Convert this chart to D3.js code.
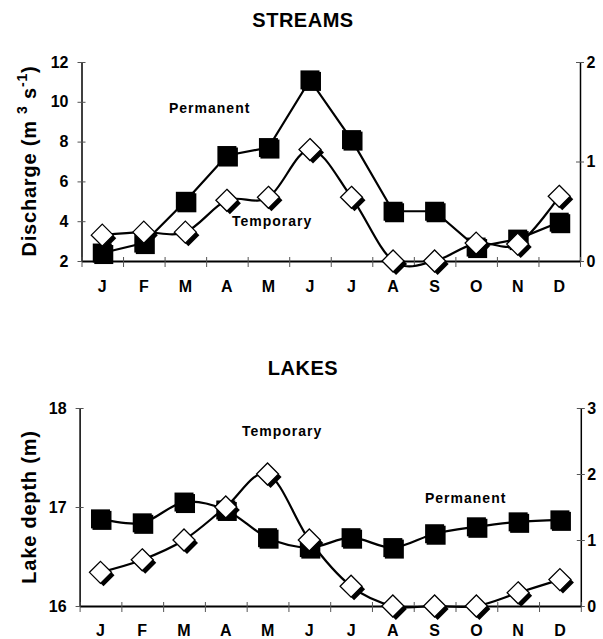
<!DOCTYPE html>
<html>
<head>
<meta charset="utf-8">
<script src="https://cdn.jsdelivr.net/npm/d3@7"></script>
<style>
  body { margin: 0; background: #fff; }
  svg { display: block; font-family: "Liberation Sans", Arial, sans-serif; font-weight: bold; }
  .tick text { font-size: 16px; font-weight: bold; fill: #000; }
</style>
</head>
<body>
<svg id="chart" width="603" height="639"></svg>
<script>
// month initials along the x axis
var months = ['J', 'F', 'M', 'A', 'M', 'J', 'J', 'A', 'S', 'O', 'N', 'D'];

// streams: permanent on left axis (m3 s-1), temporary on right axis
var streamPermanent = [2.4, 2.9, 5.0, 7.3, 7.7, 11.1, 8.1, 4.5, 4.5, 2.7, 3.1, 3.95];
var streamTemporary = [0.26, 0.29, 0.29, 0.61, 0.64, 1.12, 0.64, 0, 0, 0.18, 0.17, 0.65];
var streamLeftTicks = [2, 4, 6, 8, 10, 12];
var streamRightTicks = [0, 1, 2];

// lakes: permanent depth on left axis (m), temporary on right axis
var lakePermanent = [16.88, 16.84, 17.05, 16.97, 16.69, 16.59, 16.69, 16.59, 16.73, 16.80, 16.85, 16.87];
var lakeTemporary = [0.51, 0.70, 1.0, 1.5, 2.0, 1.0, 0.30, 0, 0, 0, 0.20, 0.40];
var lakeLeftTicks = [16, 17, 18];
var lakeRightTicks = [0, 1, 2, 3];

var svg = d3.select('#chart');

var panels = [
    {
        title: 'STREAMS', titleY: 27,
        left: 81.5, right: 580, top: 62, bottom: 261,
        yLeft: [2, 12], yRight: [0, 2],
        leftTicks: streamLeftTicks, rightTicks: streamRightTicks,
        permanent: streamPermanent, temporary: streamTemporary,
        permCurve: d3.curveLinear,
        labelY: 161, monthY: 292,
        permLabel: [169, 113], tempLabel: [232, 226]
    },
    {
        title: 'LAKES', titleY: 375,
        left: 79.6, right: 580.8, top: 408, bottom: 606,
        yLeft: [16, 18], yRight: [0, 3],
        leftTicks: lakeLeftTicks, rightTicks: lakeRightTicks,
        permanent: lakePermanent, temporary: lakeTemporary,
        permCurve: d3.curveCardinal.tension(0),
        labelY: 507, monthY: 636,
        permLabel: [425, 503], tempLabel: [242, 436]
    }
];

panels.forEach(function(p, k) {
    var g = svg.append('g');

    var x = d3.scaleLinear().domain([0, 12]).range([p.left, p.right]);
    var xBand = d3.scaleBand().domain(d3.range(12)).range([p.left, p.right]);
    var yL = d3.scaleLinear().domain(p.yLeft).range([p.bottom, p.top]);
    var yR = d3.scaleLinear().domain(p.yRight).range([p.bottom, p.top]);

    // title
    g.append('text')
        .attr('x', 303).attr('y', p.titleY)
        .attr('text-anchor', 'middle')
        .style('font-size', '20px')
        .style('letter-spacing', '0.5px')
        .text(p.title);

    // left axis
    var la = g.append('g')
        .attr('transform', 'translate(' + p.left + ',0)')
        .call(d3.axisLeft(yL).tickValues(p.leftTicks).tickFormat(d3.format('d'))
            .tickSizeOuter(0).tickPadding(7));
    la.selectAll('.tick line').attr('x1', 4).attr('x2', -4).attr('stroke', '#555');
    la.select('.domain').attr('stroke-width', 1.5);

    // right axis
    var ra = g.append('g')
        .attr('transform', 'translate(' + p.right + ',0)')
        .call(d3.axisRight(yR).tickValues(p.rightTicks).tickFormat(d3.format('d'))
            .tickSizeOuter(0).tickPadding(0.5));
    ra.selectAll('.tick line').attr('x1', -4).attr('x2', 4).attr('stroke', '#555');
    ra.select('.domain').attr('stroke-width', 1.5);

    // bottom axis: tick marks on month boundaries
    var ba = g.append('g')
        .attr('transform', 'translate(0,' + p.bottom + ')')
        .call(d3.axisBottom(x).tickValues(d3.range(13)).tickFormat('').tickSizeOuter(0));
    ba.selectAll('.tick line').attr('y1', -4).attr('y2', 6).attr('stroke', '#555');
    ba.select('.domain').attr('stroke-width', 2);

    // month labels at band centres
    var ma = g.append('g')
        .attr('transform', 'translate(0,' + p.bottom + ')')
        .call(d3.axisBottom(xBand).tickSize(0).tickFormat(function(i) { return months[i]; }));
    ma.select('.domain').remove();
    ma.selectAll('.tick text').attr('y', p.monthY - p.bottom).attr('dy', 0);

    // y axis title
    var yt = g.append('text')
        .attr('transform', 'translate(36,' + p.labelY + ') rotate(-90)')
        .attr('text-anchor', 'middle')
        .style('font-size', '20px')
        .style('letter-spacing', '0.8px');
    if (k === 0) {
        yt.append('tspan').text('Discharge (m ');
        yt.append('tspan').attr('dy', -9).style('font-size', '14px').text('3');
        yt.append('tspan').attr('dy', 9).text(' s');
        yt.append('tspan').attr('dy', -9).style('font-size', '14px').text('-1');
        yt.append('tspan').attr('dy', 9).text(')');
    } else {
        yt.text('Lake depth (m)');
    }

    // lines
    var permLine = d3.line()
        .x(function(d, i) { return x(i + 0.5); })
        .y(function(d) { return yL(d); })
        .curve(p.permCurve);
    var tempLine = d3.line()
        .x(function(d, i) { return x(i + 0.5); })
        .y(function(d) { return yR(d); })
        .curve(d3.curveCardinal.tension(0));

    g.append('path').datum(p.permanent)
        .attr('d', permLine).attr('fill', 'none')
        .attr('stroke', '#000').attr('stroke-width', 2.2);
    g.append('path').datum(p.temporary)
        .attr('d', tempLine).attr('fill', 'none')
        .attr('stroke', '#000').attr('stroke-width', 2.2);

    // square markers (black, with a small offset shadow)
    var sq = g.selectAll('.sq').data(p.permanent).enter().append('g')
        .attr('class', 'sq')
        .attr('transform', function(d, i) { return 'translate(' + x(i + 0.5) + ',' + yL(d) + ')'; });
    sq.append('rect').attr('x', -8).attr('y', -8).attr('width', 19).attr('height', 19).attr('fill', '#000');
    sq.append('rect').attr('x', -9.5).attr('y', -9.5).attr('width', 19).attr('height', 19).attr('fill', '#000');

    // diamond markers (white, with a black shadow to the lower right)
    var diamond = 'M0,-11L11,0L0,11L-11,0Z';
    var dm = g.selectAll('.dm').data(p.temporary).enter().append('g')
        .attr('class', 'dm')
        .attr('transform', function(d, i) { return 'translate(' + x(i + 0.5) + ',' + yR(d) + ')'; });
    dm.append('path').attr('d', diamond).attr('transform', 'translate(3,3)').attr('fill', '#000');
    dm.append('path').attr('d', diamond).attr('fill', '#fff').attr('stroke', '#000').attr('stroke-width', 1.3);

    // series labels
    g.append('text')
        .attr('x', p.permLabel[0]).attr('y', p.permLabel[1])
        .style('font-size', '14px').style('letter-spacing', '1px')
        .text('Permanent');
    g.append('text')
        .attr('x', p.tempLabel[0]).attr('y', p.tempLabel[1])
        .style('font-size', '14px').style('letter-spacing', '1px')
        .text('Temporary');
});
</script>
</body>
</html>
